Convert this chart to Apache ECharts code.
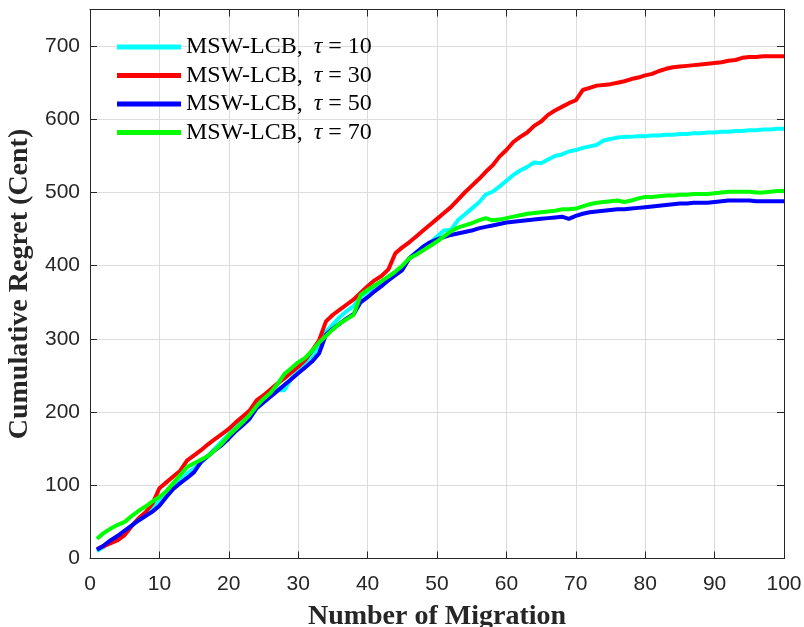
<!DOCTYPE html>
<html>
<head>
<meta charset="utf-8">
<script src="https://cdn.jsdelivr.net/npm/echarts@6/dist/echarts.min.js"></script>
<style>html,body{margin:0;padding:0;background:#fff;}#c{width:804px;height:627px;}</style>
</head>
<body>
<div id="c"></div>
<script>
var migrations = [1,2,3,4,5,6,7,8,9,10,11,12,13,14,15,16,17,18,19,20,21,22,23,24,25,26,27,28,29,30,31,32,33,34,35,36,37,38,39,40,41,42,43,44,45,46,47,48,49,50,51,52,53,54,55,56,57,58,59,60,61,62,63,64,65,66,67,68,69,70,71,72,73,74,75,76,77,78,79,80,81,82,83,84,85,86,87,88,89,90,91,92,93,94,95,96,97,98,99,100];

var tau10 = [10,16,24,30,37,45,54,62,70,78,86,96,106,116,123,131,140,150,160,170,
  180,188,198,210,217,224,230,230,246,256,265,275,292,310,320,330,338,345,358,364,
  371,378,385,390,397,410,418,426,431,440,448,449,462,470,478,486,497,501,508,516,
  524,530,535,541,540,545,550,552,556,558,561,563,565,571,573,575,576,576,577,577,
  578,578,579,579,580,580,581,581,582,582,583,583,584,584,585,585,586,586,587,587];

var tau30 = [13,17,21,25,32,44,55,63,75,96,104,112,120,134,141,148,156,163,170,177,
  186,194,202,216,223,231,239,246,254,262,271,284,298,324,333,340,347,354,363,372,
  380,386,395,417,425,432,440,448,456,464,472,480,490,500,509,518,528,537,549,558,
  569,576,582,591,597,606,612,617,622,626,640,643,646,647,648,650,652,655,657,660,
  662,666,669,671,672,673,674,675,676,677,678,680,681,684,685,685,686,686,686,686];

var tau50 = [12,18,25,31,38,45,52,58,64,72,84,95,103,110,118,132,140,148,155,164,
  174,182,191,205,213,221,229,237,245,253,261,269,280,306,314,321,328,334,350,357,
  365,372,380,387,394,410,418,426,432,436,439,442,444,446,448,451,453,455,457,459,
  460,461,462,463,464,465,466,467,464,468,471,473,474,475,476,477,477,478,479,480,
  481,482,483,484,485,485,486,486,486,487,488,489,489,489,489,488,488,488,488,488];

var tau70 = [27,35,41,46,50,58,65,71,78,84,92,103,114,125,130,135,140,148,157,168,
  177,186,196,208,218,226,238,252,260,268,274,284,295,304,313,321,327,333,360,367,
  373,379,385,392,400,410,415,421,427,433,440,447,452,455,458,462,465,462,463,465,
  467,469,471,472,473,474,475,477,477,478,481,484,486,487,488,489,487,489,492,494,
  494,495,496,496,497,497,498,498,498,499,500,501,501,501,501,500,500,501,502,502];

var seriesNames = ['MSW-LCB, τ = 10','MSW-LCB, τ = 30','MSW-LCB, τ = 50','MSW-LCB, τ = 70'];
var tauLabels = ['10','30','50','70'];
var seriesColors = ['#00FFFF','#FF0000','#0000FF','#00FF00'];
var xTicks = [0,10,20,30,40,50,60,70,80,90,100];
var yTicks = [0,100,200,300,400,500,600,700];

var allData = [tau10, tau30, tau50, tau70];

function pairs(ys){ return ys.map(function(v,i){ return [migrations[i], v]; }); }

var axisColor = '#262626';
var series = allData.map(function(d, k){
  return {
    name: seriesNames[k],
    type: 'line',
    data: pairs(d),
    xAxisIndex: 0, yAxisIndex: 0,
    showSymbol: false,
    symbol: 'none',
    lineStyle: { width: 4, color: seriesColors[k] },
    itemStyle: { color: seriesColors[k] },
    animation: false,
    z: 2 + k
  };
});

var chart = echarts.init(document.getElementById('c'), null, {renderer: 'canvas'});
chart.setOption({
  animation: false,
  backgroundColor: '#ffffff',
  grid: { left: 90, right: 20, top: 9.5, bottom: 68.5, containLabel: false, outerBoundsMode: 'none' },
  legend: {
    orient: 'vertical',
    left: 117, top: 33,
    padding: 0,
    itemGap: 0.5,
    itemWidth: 64, itemHeight: 5,
    icon: 'rect',
    data: seriesNames,
    formatter: function(name){
      var k = seriesNames.indexOf(name);
      return '{a|MSW-LCB,}{s| }{i|τ}{a| = ' + tauLabels[k] + '}';
    },
    textStyle: {
      fontFamily: 'Liberation Serif', fontSize: 24, color: '#000', lineHeight: 28,
      rich: {
        a: { fontFamily: 'Liberation Serif', fontSize: 24, color: '#000', lineHeight: 28 },
        s: { fontFamily: 'Liberation Serif', fontSize: 24, width: 11, lineHeight: 28 },
        i: { fontFamily: 'Liberation Serif', fontSize: 24, fontStyle: 'italic', color: '#000', lineHeight: 28 }
      }
    }
  },
  xAxis: [{
    type: 'value', min: 0, max: 100, interval: 10,
    name: 'Number of Migration', nameLocation: 'middle', nameGap: 44,
    nameTextStyle: { fontFamily: 'Liberation Serif', fontWeight: 'bold', fontSize: 28, color: axisColor },
    axisLine: { show: true, onZero: false, lineStyle: { color: axisColor, width: 1 } },
    axisTick: { show: true, inside: true, length: 7, lineStyle: { color: axisColor } },
    axisLabel: { fontFamily: 'Liberation Sans', fontSize: 21, color: axisColor, margin: 15,
      formatter: function(v){ return xTicks.indexOf(v) >= 0 ? String(v) : ''; } },
    splitLine: { show: true, lineStyle: { color: '#dcdcdc', width: 1 } }
  }, {
    type: 'value', min: 0, max: 100, interval: 10, position: 'top',
    axisLine: { show: true, onZero: false, lineStyle: { color: axisColor, width: 1 } },
    axisTick: { show: true, inside: true, length: 7, lineStyle: { color: axisColor } },
    axisLabel: { show: false }, splitLine: { show: false }
  }],
  yAxis: [{
    type: 'value', min: 0, max: 750, interval: 100,
    name: 'Cumulative Regret (Cent)', nameLocation: 'middle', nameGap: 52,
    nameTextStyle: { fontFamily: 'Liberation Serif', fontWeight: 'bold', fontSize: 28, color: axisColor },
    axisLine: { show: true, onZero: false, lineStyle: { color: axisColor, width: 1 } },
    axisTick: { show: true, inside: true, length: 7, lineStyle: { color: axisColor } },
    axisLabel: { fontFamily: 'Liberation Sans', fontSize: 21, color: axisColor, margin: 10, showMaxLabel: false,
      formatter: function(v){ return yTicks.indexOf(v) >= 0 ? String(v) : ''; } },
    splitLine: { show: true, lineStyle: { color: '#dcdcdc', width: 1 } }
  }, {
    type: 'value', min: 0, max: 750, interval: 100, position: 'right',
    axisLine: { show: true, onZero: false, lineStyle: { color: axisColor, width: 1 } },
    axisTick: { show: true, inside: true, length: 7, lineStyle: { color: axisColor } },
    axisLabel: { show: false }, splitLine: { show: false }
  }],
  series: series
});
</script>
</body>
</html>
